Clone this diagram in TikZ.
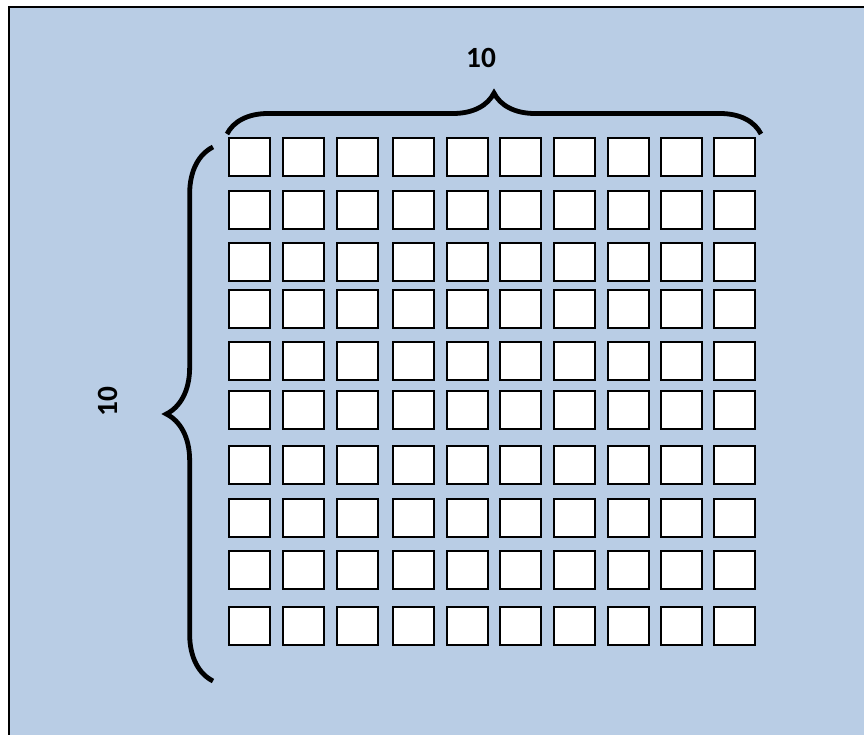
\documentclass[tikz,border=0pt]{standalone}
\usepackage{fontspec}
\setmainfont{Carlito}
\usetikzlibrary{decorations.pathreplacing}
\definecolor{panelblue}{HTML}{B9CDE5}

\begin{document}
\begin{tikzpicture}[
    x=0.75pt, y=-0.75pt,
    every node/.style={font=\bfseries\fontsize{22}{26}\selectfont},
    cell/.style={draw, line width=1.5pt, fill=white, minimum width=30.5pt, minimum height=28.5pt, inner sep=0pt, anchor=north west},
    bracket/.style={decorate, decoration={brace, amplitude=#1}, line width=3.6pt},
    panel/.style={draw, line width=1pt, fill=panelblue}
]
    \useasboundingbox (0,0) rectangle (864,735);
    \draw [panel] (9,7) rectangle (880,750);

    % 10 x 10 grid of cells
    \foreach \y [count=\j] in {137,190,242,289,341,390,445,498,550,606}
        \foreach \x [count=\i] in {228,282,336,392,446,499,553,607,660,713}
            \node (cell-\i-\j) [cell] at (\x,\y) {};

    % braces and their counts
    \coordinate (topL) at (227,134);
    \coordinate (topR) at (761,134);
    \coordinate (sideB) at (213,681);
    \coordinate (sideT) at (213,147);
    \draw [bracket=30.75pt] (topL) -- (topR);
    \draw [bracket=35pt] (sideB) -- (sideT);
    \node (colcount) at (481,58) {10};
    \node (rowcount) [rotate=90] at (108,402) {10};
\end{tikzpicture}
\end{document}
